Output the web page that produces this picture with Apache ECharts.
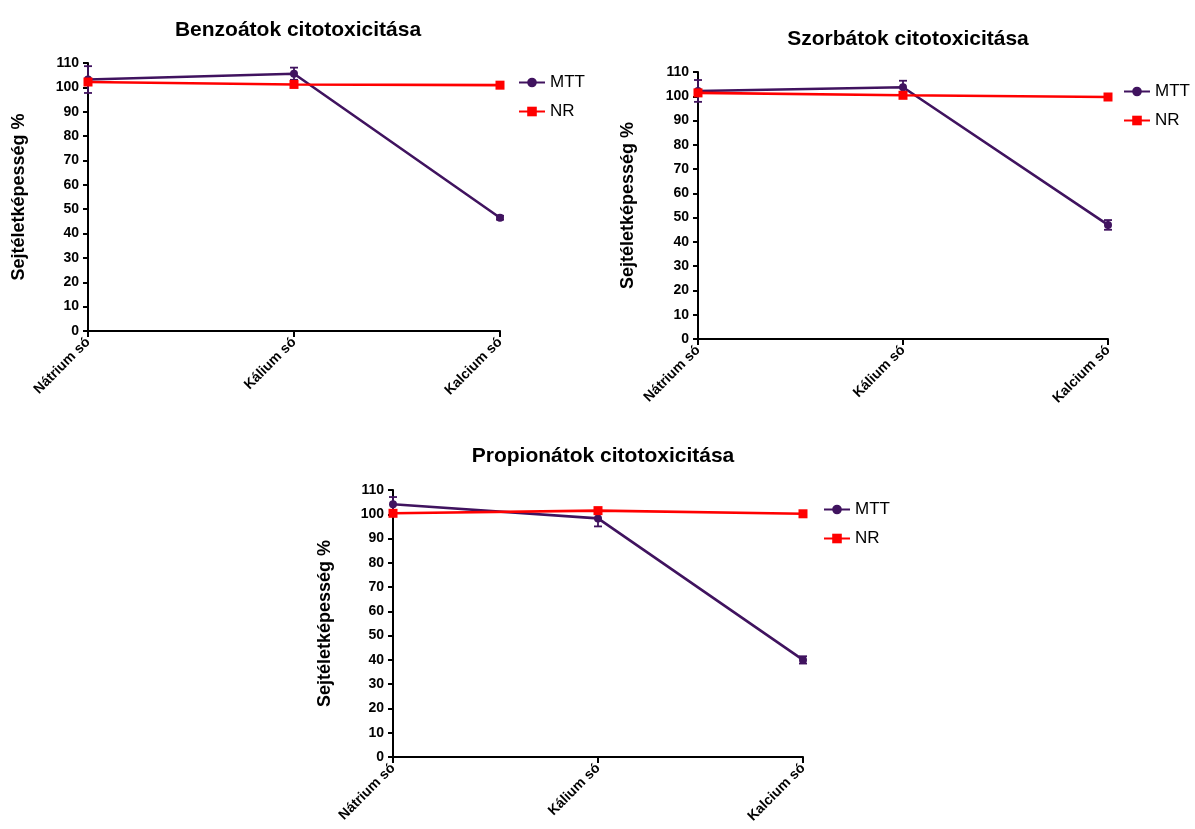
<!DOCTYPE html>
<html><head><meta charset="utf-8">
<script src="https://cdn.jsdelivr.net/npm/echarts@6/dist/echarts.min.js"></script>
<style>html,body{margin:0;padding:0;background:#fff}#c{width:1195px;height:829px}</style>
</head><body><div id="c"></div>
<script>
const categories = ['Nátrium só', 'Kálium só', 'Kalcium só'];
const titles = ['Benzoátok citotoxicitása', 'Szorbátok citotoxicitása', 'Propionátok citotoxicitása'];
const yName = 'Sejtéletképesség %';
const yTicks = { min: 0, max: 110, interval: 10 };
// Benzoátok
const benzoMTT = [103.2, 105.6, 46.5];
const benzoMTTerr = [5.5, 2.5, 0.8];
const benzoNR = [102.2, 101.2, 100.9];
const benzoNRerr = [1.0, 1.0, 0.5];
// Szorbátok
const szorbMTT = [102.2, 103.7, 47.0];
const szorbMTTerr = [4.5, 2.7, 2.0];
const szorbNR = [101.4, 100.4, 99.7];
const szorbNRerr = [0.8, 0.8, 0.5];
// Propionátok
const propMTT = [104.1, 98.3, 40.0];
const propMTTerr = [3.0, 3.3, 1.5];
const propNR = [100.4, 101.5, 100.2];
const propNRerr = [0.5, 1.0, 0.5];

const panels = [
  { mtt: benzoMTT, mttErr: benzoMTTerr, nr: benzoNR, nrErr: benzoNRerr },
  { mtt: szorbMTT, mttErr: szorbMTTerr, nr: szorbNR, nrErr: szorbNRerr },
  { mtt: propMTT, mttErr: propMTTerr, nr: propNR, nrErr: propNRerr }
];
const layout = [
  { left: 88, top: 63, width: 412, height: 268, titleX: 293, titleY: 15, legX: 513, legY: 69, nameGap: 60 },
  { left: 698, top: 72, width: 410, height: 267, titleX: 903, titleY: 24, legX: 1118, legY: 78, nameGap: 61 },
  { left: 393, top: 490, width: 410, height: 267, titleX: 598, titleY: 441, legX: 818, legY: 496, nameGap: 59 }
];
const MTTC = '#40135f', NRC = '#ff0000';
const font = 'Liberation Sans, Arial, sans-serif';

function errSeries(name, vals, errs, color, i) {
  return {
    type: 'custom', name: name + ' err', xAxisIndex: i, yAxisIndex: i, z: 3,
    data: vals.map((v, k) => [k, v - errs[k], v + errs[k]]),
    renderItem: function (params, api) {
      const lo = api.coord([api.value(0), api.value(1)]);
      const hi = api.coord([api.value(0), api.value(2)]);
      const w = 4;
      const st = { stroke: color, lineWidth: 1.8 };
      return { type: 'group', children: [
        { type: 'line', shape: { x1: lo[0], y1: lo[1], x2: hi[0], y2: hi[1] }, style: st },
        { type: 'line', shape: { x1: lo[0] - w, y1: lo[1], x2: lo[0] + w, y2: lo[1] }, style: st },
        { type: 'line', shape: { x1: hi[0] - w, y1: hi[1], x2: hi[0] + w, y2: hi[1] }, style: st }
      ]};
    }
  };
}

const option = { animation: false, textStyle: { fontFamily: font }, title: [], grid: [], xAxis: [], yAxis: [], legend: [], series: [] };
panels.forEach((p, i) => {
  const L = layout[i];
  option.title.push({ text: titles[i], left: L.titleX, top: L.titleY, textAlign: 'center',
    textStyle: { fontFamily: font, fontWeight: 'bold', fontSize: 21, color: '#000' } });
  option.grid.push({ left: L.left, top: L.top, width: L.width, height: L.height });
  option.xAxis.push({ type: 'category', gridIndex: i, data: categories, boundaryGap: false,
    axisLine: { lineStyle: { color: '#000', width: 2 } },
    axisTick: { show: true, length: 6, lineStyle: { color: '#000', width: 2 } },
    axisLabel: { rotate: 45, fontWeight: 'bold', fontSize: 14, color: '#000', fontFamily: font, margin: 9 },
    splitLine: { show: false } });
  option.yAxis.push({ type: 'value', gridIndex: i, min: yTicks.min, max: yTicks.max, interval: yTicks.interval,
    name: yName, nameLocation: 'middle', nameGap: L.nameGap, nameRotate: 90,
    nameTextStyle: { fontWeight: 'bold', fontSize: 18, color: '#000', fontFamily: font },
    axisLine: { show: true, lineStyle: { color: '#000', width: 2 } },
    axisTick: { show: true, length: 5, lineStyle: { color: '#000', width: 2 } },
    axisLabel: { fontWeight: 'bold', fontSize: 14, color: '#000', fontFamily: font, margin: 9 },
    splitLine: { show: false } });
  option.legend.push({ orient: 'vertical', left: L.legX, top: L.legY, itemGap: 12, itemWidth: 26, itemHeight: 12,
    data: ['MTT', 'NR'], textStyle: { fontSize: 17, color: '#000', fontFamily: font } });
  option.series.push(errSeries('MTT', p.mtt, p.mttErr, MTTC, i));
  option.series.push(errSeries('NR', p.nr, p.nrErr, NRC, i));
  option.series.push({ type: 'line', name: 'MTT', xAxisIndex: i, yAxisIndex: i, data: p.mtt, z: 4,
    symbol: 'circle', symbolSize: 8, lineStyle: { color: MTTC, width: 2.6 }, itemStyle: { color: MTTC } });
  option.series.push({ type: 'line', name: 'NR', xAxisIndex: i, yAxisIndex: i, data: p.nr, z: 5,
    symbol: 'rect', symbolSize: 9, lineStyle: { color: NRC, width: 2.6 }, itemStyle: { color: NRC } });
});
const chart = echarts.init(document.getElementById('c'), null, { renderer: 'canvas' });
chart.setOption(option);
</script></body></html>
